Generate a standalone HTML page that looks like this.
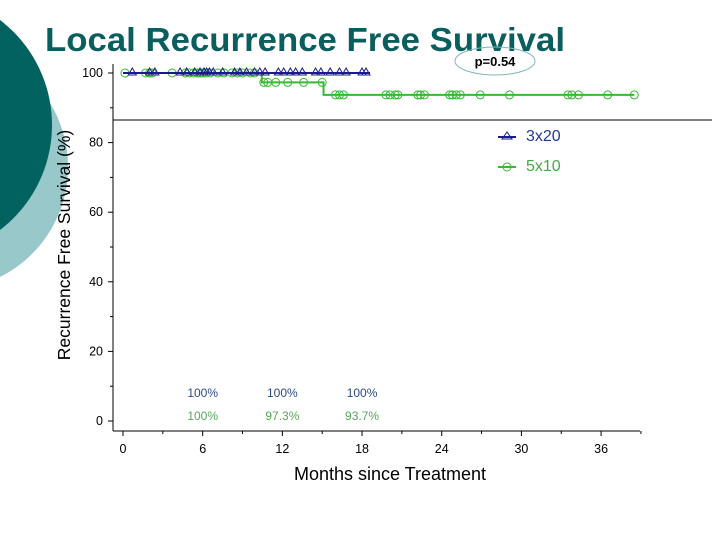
<!DOCTYPE html>
<html><head><meta charset="utf-8"><style>
html,body{margin:0;padding:0;background:#fff;}
svg{display:block;font-family:"Liberation Sans",Arial,sans-serif;}
</style></head><body>
<svg id="c" width="720" height="540" viewBox="0 0 720 540" xmlns="http://www.w3.org/2000/svg">
<circle cx="-55" cy="167" r="123" fill="#99c8cb"/>
<circle cx="-80" cy="125" r="132" fill="#02625f"/>
<text x="45" y="51" font-size="33" font-weight="bold" fill="#0b5e5e" textLength="520" lengthAdjust="spacingAndGlyphs">Local Recurrence Free Survival</text>
<ellipse cx="495" cy="61" rx="40" ry="14" fill="none" stroke="#7fb8bc" stroke-width="1"/>
<text x="495" y="66" font-size="13" font-weight="bold" text-anchor="middle" fill="#000">p=0.54</text>
<line x1="113" y1="120" x2="712" y2="120" stroke="#000" stroke-width="1"/>
<g id="axes"></g>
<g id="marks"></g>
<text transform="translate(70,245) rotate(-90)" font-size="17.5" text-anchor="middle" fill="#000">Recurrence Free Survival (%)</text>
<text x="390" y="480" font-size="18" text-anchor="middle" fill="#000">Months since Treatment</text>
<g>
<line x1="498" y1="137" x2="516" y2="137" stroke="#1a1a8c" stroke-width="2"/>
<polygon points="507,132 502,139 512,139" fill="none" stroke="#1a1a8c"/>
<text x="526" y="141" font-size="16" fill="#223a8e">3x20</text>
<line x1="498" y1="167" x2="516" y2="167" stroke="#33bb33" stroke-width="2"/>
<circle cx="507" cy="167" r="4" fill="none" stroke="#33bb33"/>
<text x="526" y="171" font-size="16" fill="#44aa44">5x10</text>
</g>
</svg>
<script>
const xTicks=[0,6,12,18,24,30,36];
const yTicks=[0,20,40,60,80,100];
const blueCensor=[0.7,2.0,2.4,4.3,4.8,5.4,5.8,6.1,6.3,6.5,6.8,7.5,8.4,8.8,9.3,9.9,10.3,10.7,11.7,12.1,12.6,13.0,13.5,14.5,14.9,15.6,16.3,16.8,18.0,18.3];
const blueEnd=18.6;
const greenEventTimes=[10.45,15.1];
const greenEventValues=[97.3,93.7];
const greenCensor=[0.15,1.7,2.0,2.2,3.7,4.7,5.0,5.3,5.6,5.8,6.0,6.25,6.55,7.15,7.6,8.2,8.6,9.0,9.6,9.9,10.6,10.9,11.5,12.4,13.6,15.0,16.0,16.3,16.6,19.8,20.1,20.5,20.7,22.2,22.4,22.7,24.6,24.8,25.1,25.4,26.9,29.1,33.5,33.8,34.3,36.5,38.5];
const annotTimes=[6,12,18];
const blueLabels=["100%","100%","100%"];
const greenLabels=["100%","97.3%","93.7%"];

const NS="http://www.w3.org/2000/svg";
const X=m=>123+m*13.28;
const Y=v=>421-v*3.48;
const axes=document.getElementById('axes'), marks=document.getElementById('marks');
function mk(tag,attrs,parent){const e=document.createElementNS(NS,tag);for(const k in attrs)e.setAttribute(k,attrs[k]);parent.appendChild(e);return e;}

let e=mk('line',{x1:113,y1:64,x2:113,y2:431,stroke:'#000'},axes);


e=mk('line',{x1:113,y1:431,x2:640,y2:431,stroke:'#000'},axes);


for(let v=0;v<=100;v+=10){
  const t=mk('line',{x1:v%20===0?108:110,y1:Y(v),x2:113,y2:Y(v),stroke:'#000'},axes);
  
  
}
yTicks.forEach(v=>{
  const t=mk('text',{x:103,y:Y(v)+4,'font-size':12.5,'text-anchor':'end',fill:'#000'},axes);t.textContent=v;
  
  
});
for(let m=0;m<=39;m+=3){
  const t=mk('line',{x1:X(m),y1:431,x2:X(m),y2:m%6===0?436:434,stroke:'#000'},axes);
  
  
}
xTicks.forEach(m=>{
  const t=mk('text',{x:X(m),y:453,'font-size':12.5,'text-anchor':'middle',fill:'#000'},axes);t.textContent=m;
  
  
});

let d='M'+X(0)+','+Y(100);let cur=100;
greenEventTimes.forEach((t,i)=>{d+=' L'+X(t)+','+Y(cur)+' L'+X(t)+','+Y(greenEventValues[i]);cur=greenEventValues[i];});
d+=' L'+X(greenCensor[greenCensor.length-1])+','+Y(cur);
e=mk('path',{d:d,fill:'none',stroke:'#33bb33','stroke-width':2},marks);


function gVal(t){let v=100;greenEventTimes.forEach((et,i)=>{if(t>=et)v=greenEventValues[i];});return v;}
greenCensor.forEach(t=>{
  const c=mk('circle',{cx:X(t),cy:Y(gVal(t)),r:4,fill:'none',stroke:'#33bb33'},marks);
  
  
});
e=mk('line',{x1:X(0),y1:Y(100),x2:X(blueEnd),y2:Y(100),stroke:'#1a1a8c','stroke-width':2},marks);


blueCensor.forEach(t=>{
  const x=X(t),y=Y(100);
  const p=mk('polygon',{points:`${x},${y-5} ${x-4},${y+2} ${x+4},${y+2}`,fill:'none',stroke:'#1a1a8c'},marks);
  
  
});
annotTimes.forEach((t,i)=>{
  let a=mk('text',{x:X(t),y:397,'font-size':12,'text-anchor':'middle',fill:'#2a4a8a'},marks);a.textContent=blueLabels[i];
  
  
  a=mk('text',{x:X(t),y:420,'font-size':12,'text-anchor':'middle',fill:'#55aa55'},marks);a.textContent=greenLabels[i];
  
  
});
</script>
</body></html>
